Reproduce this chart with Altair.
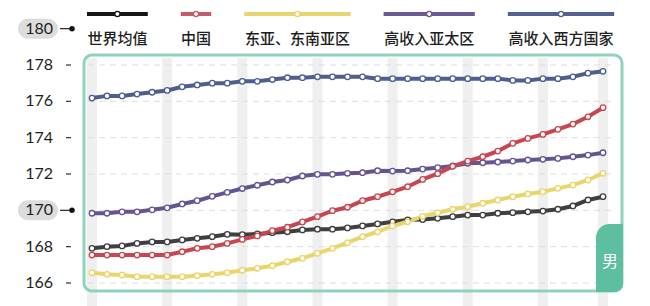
import altair as alt
import pandas as pd

# ---------------- data ----------------
years = list(range(1985, 2020))
series_names = ["世界均值", "中国", "东亚、东南亚区", "高收入亚太区", "高收入西方国家"]

world = [167.91, 168.00, 168.04, 168.18, 168.26, 168.26, 168.37, 168.46, 168.55, 168.68,
         168.66, 168.70, 168.77, 168.82, 168.92, 168.96, 168.96, 169.03, 169.14, 169.25,
         169.37, 169.47, 169.49, 169.56, 169.65, 169.74, 169.74, 169.84, 169.87, 169.92,
         169.96, 170.06, 170.24, 170.57, 170.75]
china = [167.54, 167.54, 167.54, 167.54, 167.54, 167.54, 167.72, 167.91, 168.00, 168.18,
         168.40, 168.59, 168.88, 169.07, 169.36, 169.65, 169.98, 170.17, 170.53, 170.75,
         171.02, 171.30, 171.70, 172.02, 172.42, 172.71, 172.95, 173.26, 173.69, 173.96,
         174.18, 174.46, 174.75, 175.15, 175.65]
east_asia = [166.57, 166.48, 166.44, 166.35, 166.35, 166.35, 166.35, 166.40, 166.48, 166.57,
             166.70, 166.81, 166.95, 167.17, 167.36, 167.63, 167.91, 168.22, 168.55, 168.82,
             169.14, 169.37, 169.67, 169.87, 170.06, 170.20, 170.39, 170.57, 170.75, 170.90,
             171.02, 171.21, 171.39, 171.67, 172.04]
hi_asia = [169.84, 169.84, 169.92, 169.92, 170.03, 170.14, 170.35, 170.53, 170.77, 170.99,
           171.20, 171.38, 171.56, 171.67, 171.89, 171.98, 171.98, 172.04, 172.07, 172.18,
           172.16, 172.18, 172.27, 172.35, 172.44, 172.59, 172.62, 172.66, 172.71, 172.77,
           172.81, 172.86, 172.95, 173.04, 173.17]
hi_west = [176.18, 176.30, 176.30, 176.40, 176.50, 176.60, 176.80, 176.90, 177.00, 177.00,
           177.10, 177.10, 177.20, 177.30, 177.30, 177.35, 177.35, 177.35, 177.35, 177.25,
           177.25, 177.25, 177.25, 177.25, 177.25, 177.25, 177.25, 177.25, 177.15, 177.15,
           177.25, 177.25, 177.35, 177.55, 177.65]

band_years = [1985, 1990, 1995, 2000, 2005, 2010, 2015, 2019]
tick_values = [166, 168, 170, 172, 174, 176, 178, 180]
highlight_ticks = [170, 180]
tab_label = "男"

line_colors = ["#3f3f3f", "#c8464f", "#e9d56c", "#645590", "#4d5e8f"]
legend_colors = ["#151515", "#c65a66", "#e8d470", "#6c5a93", "#52628f"]

# ---------------- layout ----------------
W, H = 538, 236
LEFT, TOP = 84, 55
FONT_CJK = "Noto Sans CJK SC"
FONT_NUM = "Lato"

px_per_year = 511 / 34
px_per_cm = 218 / 12
xs = alt.Scale(domain=[1985 - 8 / px_per_year, 1985 + 530 / px_per_year], nice=False, zero=False)
ys = alt.Scale(domain=[166 - 8 / px_per_cm, 178 + 10 / px_per_cm], nice=False, zero=False)

series_data = [world, china, east_asia, hi_asia, hi_west]
rows = []
for name, vals in zip(series_names, series_data):
    for yr, v in zip(years, vals):
        rows.append({"year": yr, "v": v, "series": name})
df = pd.DataFrame(rows)

color_scale = alt.Scale(domain=series_names, range=line_colors)
draw_order = ["世界均值", "高收入亚太区", "高收入西方国家", "东亚、东南亚区", "中国"]
df["order"] = df["series"].map({s: i for i, s in enumerate(draw_order)})

X = alt.X("year:Q", scale=xs, axis=None)
Y = alt.Y("v:Q", scale=ys, axis=None)

layers = []

# vertical gray bands
bands = alt.Chart(pd.DataFrame({"year": band_years})).transform_calculate(
    x1=f"datum.year - {5 / px_per_year}", x2=f"datum.year + {5 / px_per_year}"
).mark_rect(color="#efefef").encode(
    x=alt.X("x1:Q", scale=xs, axis=None), x2="x2:Q",
    y=alt.value(3), y2=alt.value(H + 15)
)
layers.append(bands)

# dashed grid
grid = alt.Chart(pd.DataFrame({"v": tick_values[:-1]})).mark_rule(
    color="#dedede", strokeWidth=1, strokeDash=[6, 5]
).encode(y=Y, x=alt.value(4), x2=alt.value(W - 8))
layers.append(grid)

# lines and points
for name in draw_order:
    sub = df[df["series"] == name]
    c = line_colors[series_names.index(name)]
    layers.append(alt.Chart(sub).mark_line(strokeWidth=4, color=c).encode(x=X, y=Y))
for name in draw_order:
    sub = df[df["series"] == name]
    c = line_colors[series_names.index(name)]
    layers.append(alt.Chart(sub).mark_point(
        shape="circle", filled=True, fill="white", stroke=c, strokeWidth=1.3, size=30, opacity=1
    ).encode(x=X, y=Y))

# frame
frame = alt.Chart(pd.DataFrame({"a": [0]})).mark_rect(
    fill="white", fillOpacity=0, stroke="#8fd3bb", strokeWidth=3, cornerRadius=8
).encode(x=alt.value(0), x2=alt.value(W), y=alt.value(0), y2=alt.value(H))
layers.append(frame)

# tab
tab = alt.Chart(pd.DataFrame({"a": [0]})).mark_rect(
    color="#5dbf9f", cornerRadiusTopLeft=26, cornerRadiusBottomRight=8
).encode(x=alt.value(W - 26), x2=alt.value(W + 1), y=alt.value(169), y2=alt.value(H + 1))
layers.append(tab)
tab_text = alt.Chart(pd.DataFrame({"t": [tab_label]})).mark_text(
    font=FONT_CJK, fontSize=16, color="white", align="center", baseline="middle"
).encode(x=alt.value(W - 12), y=alt.value(207), text="t:N")
layers.append(tab_text)

# y labels
tick_df = pd.DataFrame({"v": tick_values})
tick_df["hl"] = tick_df["v"].isin(highlight_ticks)
hl_df = tick_df[tick_df["hl"]]
plain_df = tick_df[~tick_df["hl"]]

pills = alt.Chart(hl_df).mark_rect(
    color="#dcdcdc", cornerRadius=10, yOffset=-10, y2Offset=10
).encode(x=alt.value(18 - LEFT), x2=alt.value(58 - LEFT), y=Y, y2="v:Q")
layers.append(pills)

labels = alt.Chart(tick_df).mark_text(
    font=FONT_NUM, fontSize=16, color="#1e1e1e", align="right", baseline="middle"
).encode(x=alt.value(53 - LEFT), y=Y, text="v:Q")
layers.append(labels)

plain_ticks = alt.Chart(plain_df).mark_rule(color="#333333", strokeWidth=1.2).encode(
    x=alt.value(66 - LEFT), x2=alt.value(71 - LEFT), y=Y)
layers.append(plain_ticks)
hl_ticks = alt.Chart(hl_df).mark_rule(color="#222222", strokeWidth=1.2).encode(
    x=alt.value(60 - LEFT), x2=alt.value(71 - LEFT), y=Y)
layers.append(hl_ticks)
hl_dots = alt.Chart(hl_df).mark_point(shape="circle", filled=True, color="#111111", size=30, opacity=1).encode(
    x=alt.value(72 - LEFT), y=Y)
layers.append(hl_dots)

# legend (laid out left-to-right from text widths)
char_w = 15.2
gap = 33
cursor = 87
for name, c in zip(series_names, legend_colors):
    w = char_w * len(name)
    x0, x1 = cursor - LEFT, cursor + w - LEFT
    xc = (x0 + x1) / 2
    one = pd.DataFrame({"t": [name]})
    layers.append(alt.Chart(one).mark_rule(color=c, strokeWidth=4).encode(
        x=alt.value(x0), x2=alt.value(x1), y=alt.value(14 - TOP)))
    layers.append(alt.Chart(one).mark_point(
        shape="circle", filled=True, fill="white", stroke=c, strokeWidth=1.3, size=26, opacity=1
    ).encode(x=alt.value(xc), y=alt.value(14 - TOP)))
    layers.append(alt.Chart(one).mark_text(
        font=FONT_CJK, fontSize=15, fontWeight=500, color="#1e1e1e", align="center", baseline="middle"
    ).encode(x=alt.value(xc), y=alt.value(39 - TOP), text="t:N"))
    cursor += w + gap

chart = alt.layer(*layers).properties(
    width=W, height=H,
    padding={"left": LEFT, "top": TOP, "right": 650 - LEFT - W, "bottom": 306 - TOP - H},
    autosize=alt.AutoSizeParams(type="none"),
    background="white",
).configure_view(stroke=None)

chart.save("out.html", embed_options={"renderer": "svg", "actions": False})
